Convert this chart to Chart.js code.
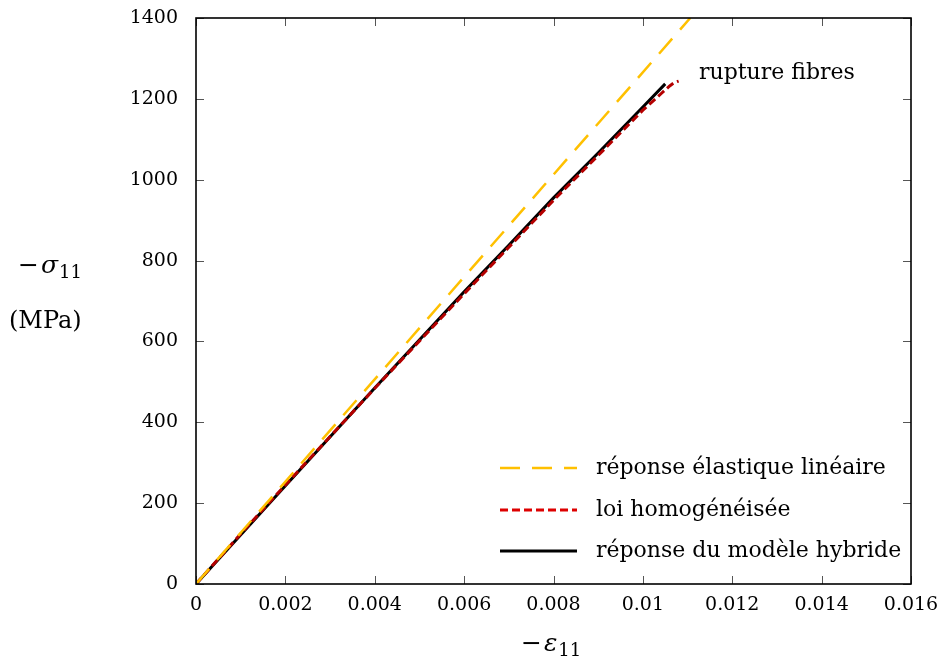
<!DOCTYPE html>
<html>
<head>
<meta charset="utf-8">
<script src="https://cdn.jsdelivr.net/npm/chart.js@4.4.0/dist/chart.umd.min.js"></script>
<style>
  html, body { margin: 0; padding: 0; background: #fff; }
  #wrap { width: 949px; height: 664px; }
</style>
</head>
<body>
<div id="wrap"><canvas id="curve"></canvas></div>
<script>
// strain / stress values
const strainElastic = [0, 0.01106];
const stressElastic = [0, 1400];

const strainHomog = [0, 0.001, 0.002, 0.004, 0.006, 0.007, 0.008, 0.009, 0.010, 0.0104, 0.0105, 0.0106, 0.0107, 0.0108];
const stressHomog = [0, 124, 245, 484, 718, 833, 949, 1060, 1172, 1212, 1222, 1232, 1240, 1244];

const strainHybrid = [0, 0.002, 0.004, 0.006, 0.007, 0.008, 0.009, 0.010, 0.0105];
const stressHybrid = [0, 243, 485, 723, 838, 955, 1066, 1180, 1237];

const xTicks = [0, 0.002, 0.004, 0.006, 0.008, 0.01, 0.012, 0.014, 0.016];
const yTicks = [0, 200, 400, 600, 800, 1000, 1200, 1400];

const seriesLabels = ["réponse élastique linéaire", "loi homogénéisée", "réponse du modèle hybride"];
const annotationText = "rupture fibres";

const FONT = "'DejaVu Serif', serif";

function toXY(xs, ys) {
  return xs.map((x, i) => ({ x: x, y: ys[i] }));
}

// frame, inward ticks, legend and axis titles
const decorations = {
  id: "decorations",
  afterDraw(chart) {
    const ctx = chart.ctx;
    const a = chart.chartArea;
    const sx = chart.scales.x;
    const sy = chart.scales.y;
    ctx.save();

    // inward ticks
    ctx.strokeStyle = "#555";
    ctx.lineWidth = 1;
    const tl = 8;
    xTicks.forEach((v) => {
      const px = Math.round(sx.getPixelForValue(v)) + 0.5;
      ctx.beginPath();
      ctx.moveTo(px, a.bottom); ctx.lineTo(px, a.bottom - tl);
      ctx.moveTo(px, a.top); ctx.lineTo(px, a.top + tl);
      ctx.stroke();
    });
    yTicks.forEach((v) => {
      const py = Math.round(sy.getPixelForValue(v)) + 0.5;
      ctx.beginPath();
      ctx.moveTo(a.left, py); ctx.lineTo(a.left + tl, py);
      ctx.moveTo(a.right, py); ctx.lineTo(a.right - tl, py);
      ctx.stroke();
    });

    // frame
    ctx.strokeStyle = "#000";
    ctx.lineWidth = 1.6;
    ctx.strokeRect(a.left, a.top, a.right - a.left, a.bottom - a.top);

    // legend
    ctx.font = "22px " + FONT;
    ctx.textBaseline = "middle";
    ctx.textAlign = "left";
    const rows = [468, 510, 551];
    chart.data.datasets.forEach((ds, i) => {
      const y = rows[i];
      ctx.strokeStyle = ds.legendColor || ds.borderColor;
      ctx.lineWidth = ds.borderWidth;
      ctx.setLineDash(ds.borderDash || []);
      ctx.beginPath();
      ctx.moveTo(500, y); ctx.lineTo(577, y);
      ctx.stroke();
      ctx.setLineDash([]);
      ctx.fillStyle = "#000";
      ctx.fillText(ds.label, 596, y);
    });

    // annotation
    ctx.fillText(annotationText, 699, 73);

    // axis titles
    function greekTitle(x, y, letter) {
      ctx.textAlign = "left";
      ctx.font = "25px " + FONT;
      ctx.fillText("\u2212", x, y);
      let w = ctx.measureText("\u2212").width + 2;
      ctx.font = "italic 25px " + FONT;
      ctx.fillText(letter, x + w, y);
      w += ctx.measureText(letter).width + 1;
      ctx.font = "18px " + FONT;
      ctx.fillText("11", x + w, y + 7);
    }
    greekTitle(18, 266, "\u03c3");
    ctx.font = "24px " + FONT;
    ctx.fillText("(MPa)", 9, 322);
    greekTitle(521, 644, "\u03b5");

    ctx.restore();
  }
};

new Chart(document.getElementById("curve"), {
  type: "scatter",
  data: {
    datasets: [
      {
        label: seriesLabels[0],
        data: toXY(strainElastic, stressElastic),
        showLine: true,
        borderColor: "#ffc000",
        borderWidth: 2.5,
        borderDash: [20, 12],
        pointRadius: 0,
        fill: false
      },
      {
        label: seriesLabels[1],
        data: toXY(strainHomog, stressHomog),
        showLine: true,
        borderColor: "#b40000",
        legendColor: "#dd0000",
        borderWidth: 3,
        borderDash: [8, 4],
        pointRadius: 0,
        fill: false
      },
      {
        label: seriesLabels[2],
        data: toXY(strainHybrid, stressHybrid),
        showLine: true,
        borderColor: "#000",
        borderWidth: 3,
        pointRadius: 0,
        fill: false
      }
    ]
  },
  options: {
    responsive: true,
    maintainAspectRatio: false,
    animation: false,
    layout: { padding: { left: 0, right: 38, top: 18, bottom: 0 } },
    plugins: {
      legend: { display: false },
      tooltip: { enabled: false }
    },
    scales: {
      x: {
        type: "linear",
        min: 0,
        max: 0.016,
        afterFit: (s) => { s.height = 80; },
        afterBuildTicks: (s) => { s.ticks = xTicks.map((v) => ({ value: v })); },
        grid: { display: false, drawTicks: false },
        border: { display: false },
        ticks: {
          color: "#000",
          padding: 10,
          maxRotation: 0,
          font: { family: FONT, size: 19 },
          callback: (v) => String(Number(v.toFixed(3)))
        }
      },
      y: {
        type: "linear",
        min: 0,
        max: 1400,
        afterFit: (s) => { s.width = 196; s.paddingTop = 0; s.paddingBottom = 0; },
        afterBuildTicks: (s) => { s.ticks = yTicks.map((v) => ({ value: v })); },
        grid: { display: false, drawTicks: false },
        border: { display: false },
        ticks: {
          color: "#000",
          padding: 18,
          font: { family: FONT, size: 19 },
          callback: (v) => String(v)
        }
      }
    }
  },
  plugins: [decorations]
});
</script>
</body>
</html>
